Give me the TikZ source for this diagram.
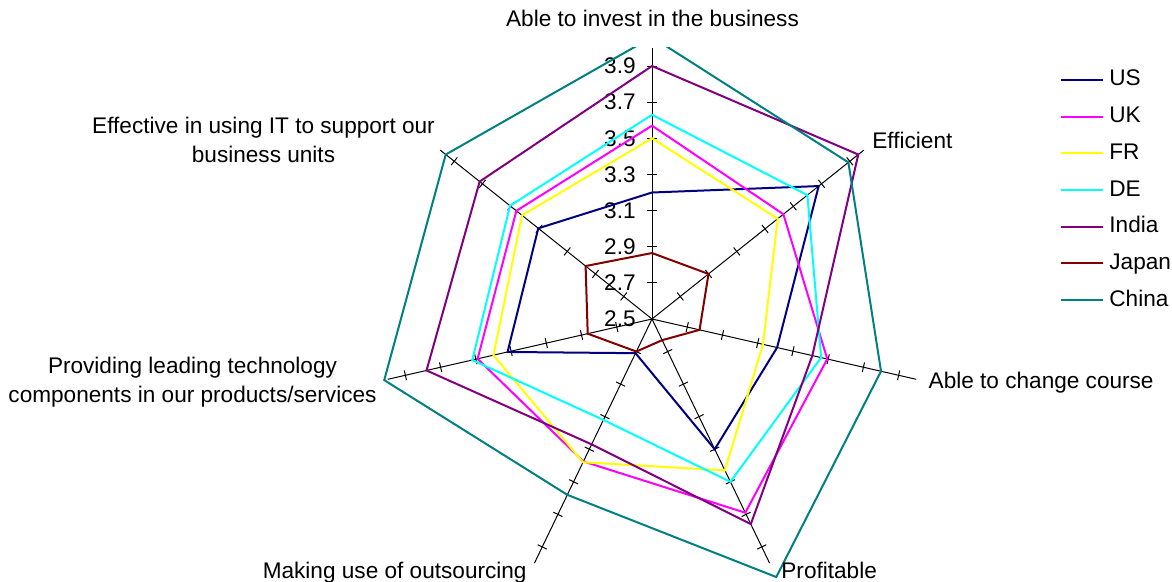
\documentclass[tikz,border=0pt]{standalone}
\usepackage{fontspec}
\setmainfont{Liberation Sans}
\usepackage{tikz}
\usetikzlibrary{positioning}
\definecolor{usblue}{RGB}{0,0,128}
\definecolor{ukpink}{RGB}{255,0,255}
\definecolor{fryellow}{RGB}{255,255,0}
\definecolor{decyan}{RGB}{0,255,255}
\definecolor{inpurple}{RGB}{128,0,128}
\definecolor{jpred}{RGB}{128,0,0}
\definecolor{cnteal}{RGB}{0,128,128}
\newcommand{\chartfont}{\fontsize{11.3pt}{14.7pt}\selectfont}
\tikzset{
  spoke/.style={draw=black, line width=0.5pt},
  series/.style={line width=1pt, line join=miter},
  catlabel/.style={inner sep=0pt, font=\chartfont},
}

\begin{document}
\begin{tikzpicture}[x=0.5pt,y=-0.5pt]
\useasboundingbox (0,0) rectangle (1172,582);
\begin{scope}[shift={(652,319)}]
\coordinate (ctr) at (0,0);
% spokes, 2.5 at the centre, 4.0 at the end
\foreach \k in {0,...,6}{
  \draw[spoke] (ctr) -- ({-90+360/7*\k}:271);
  \foreach \j in {1,...,7}
    \draw[spoke] ({-90+360/7*\k}:{36.14*\j}) ++({360/7*\k}:5) -- ++({180+360/7*\k}:10);
}
% scale on the top spoke
\foreach \v [count=\j from 0] in {2.5,2.7,2.9,3.1,3.3,3.5,3.7,3.9}
  \node[catlabel, anchor=east] (tick\j) at (-16,{-36.14*\j}) {\v};
% one polygon per country
\begin{scope}
\clip (-652,-271) rectangle (520,263);
\foreach \v [count=\k from 0] in {3.20,3.68,3.21,3.30,2.71,3.32,3.305}
  \coordinate (us\k) at ({-90+360/7*\k}:{(\v-2.5)*180.7});
\foreach \v [count=\k from 0] in {3.57,3.43,3.495,3.69,3.375,3.49,3.46}
  \coordinate (uk\k) at ({-90+360/7*\k}:{(\v-2.5)*180.7});
\foreach \v [count=\k from 0] in {3.50,3.39,3.13,3.43,3.38,3.40,3.42}
  \coordinate (fr\k) at ({-90+360/7*\k}:{(\v-2.5)*180.7});
\foreach \v [count=\k from 0] in {3.63,3.60,3.46,3.50,3.12,3.52,3.505}
  \coordinate (de\k) at ({-90+360/7*\k}:{(\v-2.5)*180.7});
\foreach \v [count=\k from 0] in {3.90,3.96,3.41,3.76,3.27,3.78,3.72}
  \coordinate (in\k) at ({-90+360/7*\k}:{(\v-2.5)*180.7});
\foreach \v [count=\k from 0] in {2.865,2.90,2.77,2.63,2.70,2.865,2.97}
  \coordinate (jp\k) at ({-90+360/7*\k}:{(\v-2.5)*180.7});
\foreach \v [count=\k from 0] in {4.06,3.89,3.80,4.085,3.58,4.02,3.96}
  \coordinate (cn\k) at ({-90+360/7*\k}:{(\v-2.5)*180.7});
\draw[series, usblue] (us0) -- (us1) -- (us2) -- (us3) -- (us4) -- (us5) -- (us6) -- cycle;
\draw[series, ukpink] (uk0) -- (uk1) -- (uk2) -- (uk3) -- (uk4) -- (uk5) -- (uk6) -- cycle;
\draw[series, fryellow] (fr0) -- (fr1) -- (fr2) -- (fr3) -- (fr4) -- (fr5) -- (fr6) -- cycle;
\draw[series, decyan] (de0) -- (de1) -- (de2) -- (de3) -- (de4) -- (de5) -- (de6) -- cycle;
\draw[series, inpurple] (in0) -- (in1) -- (in2) -- (in3) -- (in4) -- (in5) -- (in6) -- cycle;
\draw[series, jpred] (jp0) -- (jp1) -- (jp2) -- (jp3) -- (jp4) -- (jp5) -- (jp6) -- cycle;
\draw[series, cnteal] (cn0) -- (cn1) -- (cn2) -- (cn3) -- (cn4) -- (cn5) -- (cn6) -- cycle;
\end{scope}
\end{scope}

% category labels
\node[catlabel, anchor=base] (invest) at (652.5,26.7) {Able to invest in the business};
\node[catlabel, anchor=base west] (efficient) at (872,148.3) {Efficient};
\node[catlabel, anchor=base west] (change) at (928.3,388.3) {Able to change course};
\node[catlabel, anchor=base west] (profit) at (781,578) {Profitable};
\node[catlabel, anchor=base east] (outsrc) at (527,578) {Making use of outsourcing};
\node[catlabel, anchor=base, align=center] (tech) at (192.5,402.7) {Providing leading technology\\components in our products/services};
\node[catlabel, anchor=base, align=center] (useit) at (263.5,162.7) {Effective in using IT to support our\\business units};

% legend
\foreach \name/\col [count=\i from 0] in {US/usblue,UK/ukpink,FR/fryellow,DE/decyan,India/inpurple,Japan/jpred,China/cnteal}{
  \draw[series, \col] (1061,{80+36.67*\i}) -- (1103,{80+36.67*\i});
  \node[catlabel, anchor=base west] (key\name) at (1109,{86+36.67*\i}) {\name};
}
\end{tikzpicture}
\end{document}
